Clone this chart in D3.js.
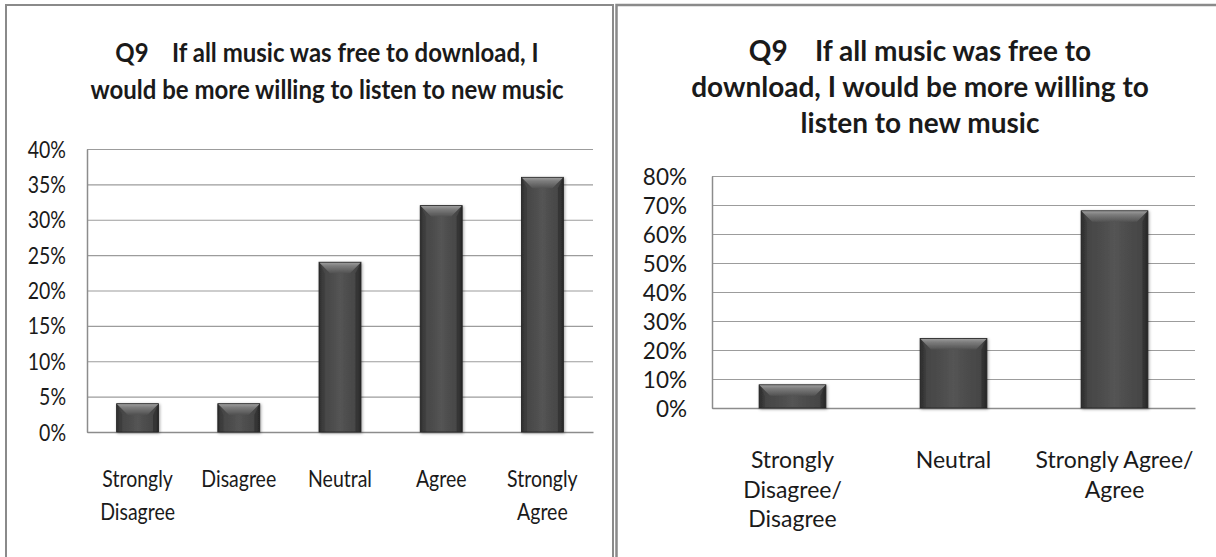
<!DOCTYPE html>
<html>
<head>
<meta charset="utf-8">
<script src="https://cdn.jsdelivr.net/npm/d3@7"></script>
<style>
  html, body { margin: 0; padding: 0; background: #ffffff; }
  svg { display: block; }
  text { font-family: Lato, "Open Sans", "Liberation Sans", sans-serif; fill: #1a1a1a; }
</style>
</head>
<body>
<svg id="chart" width="1216" height="557"></svg>
<script>
// ---------------- data ----------------
const leftTitle = ["Q9\u00a0\u00a0\u00a0\u00a0If all music was free to download, I",
                   "would be more willing to listen to new music"];
const leftCategories = ["Strongly\nDisagree", "Disagree", "Neutral", "Agree", "Strongly\nAgree"];
const leftValues = [4, 4, 24, 32, 36];
const leftTicks = [0, 5, 10, 15, 20, 25, 30, 35, 40];

const rightTitle = ["Q9\u00a0\u00a0\u00a0\u00a0If all music was free to",
                    "download, I would be more willing to",
                    "listen to new music"];
const rightCategories = ["Strongly\nDisagree/\nDisagree", "Neutral", "Strongly Agree/\nAgree"];
const rightValues = [8, 24, 68];
const rightTicks = [0, 10, 20, 30, 40, 50, 60, 70, 80];

// ---------------- layout ----------------
const svg = d3.select("#chart");

const defs = svg.append("defs");
const bodyGrad = defs.append("linearGradient").attr("id", "barBody")
  .attr("x1", "0").attr("x2", "1").attr("y1", "0").attr("y2", "0");
[[0, "#2c2c2c"], [0.07, "#444"], [0.5, "#545454"], [0.93, "#444"], [1, "#2c2c2c"]]
  .forEach(([o, c]) => bodyGrad.append("stop").attr("offset", o).attr("stop-color", c));
const topGrad = defs.append("linearGradient").attr("id", "barTop")
  .attr("x1", "0").attr("x2", "0").attr("y1", "0").attr("y2", "1");
[[0, "#a0a0a0"], [0.35, "#7c7c7c"], [1, "#525252"]]
  .forEach(([o, c]) => topGrad.append("stop").attr("offset", o).attr("stop-color", c));
const shadow = defs.append("filter").attr("id", "barShadow")
  .attr("x", "-30%").attr("y", "-30%").attr("width", "160%").attr("height", "160%");
shadow.append("feDropShadow").attr("dx", 1).attr("dy", 1).attr("stdDeviation", 1.6)
  .attr("flood-color", "#000").attr("flood-opacity", 0.35);

// panel frames
svg.append("rect").attr("x", 6).attr("y", 5).attr("width", 607).attr("height", 600)
  .attr("fill", "none").attr("stroke", "#8a8a8a").attr("stroke-width", 2);
svg.append("rect").attr("x", 616.5).attr("y", 5).attr("width", 640).attr("height", 600)
  .attr("fill", "none").attr("stroke", "#8a8a8a").attr("stroke-width", 2.5);

function vstretch(sel, s, baseYFn) {
  sel.attr("transform", function (d, i) {
    const by = baseYFn ? baseYFn.call(this, d, i) : 0;
    return `translate(0,${by}) scale(1,${s}) translate(0,${-by})`;
  });
}

function drawChart(cfg) {
  const g = svg.append("g");
  const y = d3.scaleLinear().domain([0, cfg.ticks[cfg.ticks.length - 1]])
    .range([cfg.plot.bottom, cfg.plot.top]);
  const x = d3.scaleBand().domain(cfg.categories)
    .range([cfg.plot.left, cfg.plot.right])
    .paddingInner(0.585).paddingOuter(0.2925);

  // gridlines via axis
  const grid = g.append("g").attr("transform", `translate(${cfg.plot.left},0)`)
    .call(d3.axisRight(y).tickValues(cfg.ticks).tickSize(cfg.plot.right - cfg.plot.left).tickFormat(""));
  grid.select(".domain").remove();
  grid.selectAll(".tick line").attr("stroke", "#9c9c9c").attr("stroke-width", 1.2);

  // y axis labels
  const ya = g.append("g").attr("transform", `translate(${cfg.plot.left},0)`)
    .call(d3.axisLeft(y).tickValues(cfg.ticks).tickSize(0).tickPadding(cfg.plot.left - cfg.labelRight)
      .tickFormat(d => d + "%"));
  ya.select(".domain").attr("stroke", "#8c8c8c").attr("stroke-width", 1.5);
  const tt = ya.selectAll(".tick text").attr("font-size", cfg.tickFont).attr("fill", "#1a1a1a")
    .attr("font-family", "Lato, 'Open Sans', sans-serif").attr("dy", "0.36em");
  vstretch(tt, cfg.stretch);

  // x axis line
  const xa = g.append("g").attr("transform", `translate(0,${cfg.plot.bottom})`)
    .call(d3.axisBottom(x).tickSize(0).tickFormat(""));
  xa.select(".domain").attr("stroke", "#8c8c8c").attr("stroke-width", 1.5);

  // bars
  const bars = g.append("g").selectAll("g.bar")
    .data(cfg.values.map((v, i) => ({ c: cfg.categories[i], v })))
    .join("g").attr("class", "bar").attr("filter", "url(#barShadow)");
  bars.each(function (d) {
    const bx = x(d.c), bw = x.bandwidth(), by = y(d.v), bh = y(0) - y(d.v);
    const b = Math.min(cfg.bevel, bh / 2, bw / 2);
    const s = d3.select(this);
    s.append("rect").attr("x", bx).attr("y", by).attr("width", bw).attr("height", bh)
      .attr("fill", "url(#barBody)");
    s.append("path")
      .attr("d", `M${bx},${by}L${bx + bw},${by}L${bx + bw - b},${by + b}L${bx + b},${by + b}Z`)
      .attr("fill", "url(#barTop)");
    s.append("path")
      .attr("d", `M${bx},${by}L${bx + b * 0.5},${by + b}L${bx + b * 0.5},${by + bh}L${bx},${by + bh}Z`)
      .attr("fill", "#2a2a2a").attr("opacity", 0.35);
    s.append("path")
      .attr("d", `M${bx + bw},${by}L${bx + bw - b * 0.5},${by + b}L${bx + bw - b * 0.5},${by + bh}L${bx + bw},${by + bh}Z`)
      .attr("fill", "#1e1e1e").attr("opacity", 0.4);
    s.append("rect").attr("x", bx).attr("y", by).attr("width", bw).attr("height", bh)
      .attr("fill", "none").attr("stroke", "#262626").attr("stroke-width", 0.8);
  });

  // category labels
  const lab = g.append("g").selectAll("text").data(cfg.categories).join("text")
    .attr("text-anchor", "middle")
    .attr("font-size", cfg.catFont)
    .attr("x", d => x(d) + x.bandwidth() / 2)
    .attr("y", cfg.catBaseline);
  lab.selectAll("tspan").data(d => d.split("\n")).join("tspan")
    .attr("x", function () { return d3.select(this.parentNode).attr("x"); })
    .attr("dy", (d, i) => i === 0 ? 0 : cfg.catGap / cfg.stretch)
    .text(d => d);
  vstretch(lab, cfg.stretch, () => cfg.catBaseline);

  // title
  const tl = g.append("g").selectAll("text").data(cfg.title).join("text")
    .attr("text-anchor", "middle").attr("font-weight", "bold")
    .attr("font-size", cfg.titleFont)
    .attr("x", cfg.titleX)
    .attr("y", (d, i) => cfg.titleBaseline + i * cfg.titleGap)
    .text(d => d);
  vstretch(tl, cfg.titleStretch, (d, i) => cfg.titleBaseline + i * cfg.titleGap);
}

drawChart({
  title: leftTitle, categories: leftCategories, values: leftValues, ticks: leftTicks,
  plot: { left: 87, right: 593, top: 149, bottom: 432 },
  labelRight: 66, tickFont: 19.5, catFont: 19.5, catBaseline: 487, catGap: 33, stretch: 1.15,
  titleX: 327, titleBaseline: 62, titleGap: 37, titleFont: 24, titleStretch: 1.08, bevel: 11
});
drawChart({
  title: rightTitle, categories: rightCategories, values: rightValues, ticks: rightTicks,
  plot: { left: 712, right: 1195, top: 176, bottom: 408 },
  labelRight: 687, tickFont: 22.5, catFont: 23, catBaseline: 468, catGap: 29.5, stretch: 1.0,
  titleX: 920, titleBaseline: 61, titleGap: 36, titleFont: 28, titleStretch: 1.0, bevel: 11
});
</script>
</body>
</html>
